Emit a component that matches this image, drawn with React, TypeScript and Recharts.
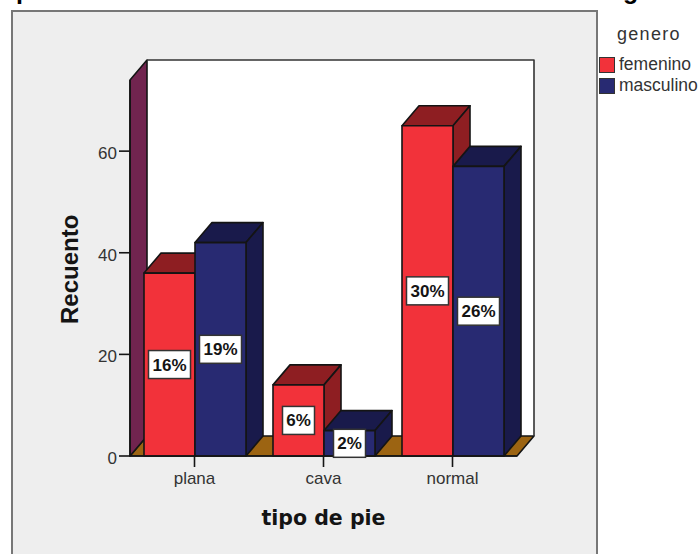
import { BarChart, Bar, XAxis, YAxis, ReferenceArea, LabelList, Legend } from "recharts";

const CATEGORIES = ["plana", "cava", "normal"];
const FEMENINO = [36, 14, 65];
const MASCULINO = [42, 5, 57];
const FEMENINO_PCT = ["16%", "6%", "30%"];
const MASCULINO_PCT = ["19%", "2%", "26%"];
const Y_TICKS = [0, 20, 40, 60];
const Y_MAX = 74;

const chartData = CATEGORIES.map((tipo, i) => ({
  tipo,
  femenino: FEMENINO[i],
  masculino: MASCULINO[i],
}));

// Oblique offset of the depth axis, in pixels.
const DX = 17;
const DY = 20;

const INK = "#141414";
const SANS = "'Liberation Sans', Arial, sans-serif";
const WIDE = "'DejaVu Sans', sans-serif";

const RED = { front: "#f2323a", shade: "#8e1e22" };
const BLUE = { front: "#282a72", shade: "#191a4b" };

const pts = (list: number[][]) => list.map((p) => p.join(",")).join(" ");

function Box3D({ x, y, width, height, colors }: any) {
  const r = x + width;
  const b = y + height;
  return (
    <g stroke={INK} strokeWidth={1.6} strokeLinejoin="round">
      <polygon fill={colors.shade} points={pts([[x, y], [x + DX, y - DY], [r + DX, y - DY], [r, y]])} />
      <polygon fill={colors.shade} points={pts([[r, y], [r + DX, y - DY], [r + DX, b - DY], [r, b]])} />
      <rect x={x} y={y} width={width} height={height} fill={colors.front} />
    </g>
  );
}

// Floor and walls behind the bars, hung off the plot rectangle.
function Walls({ x, y, width, height }: any) {
  const r = x + width;
  const b = y + height;
  return (
    <g stroke={INK} strokeLinejoin="round">
      <polygon fill="#ffffff" stroke="none" points={pts([[x + DX, y - DY], [r + DX, y - DY], [r + DX, b - DY], [x + DX, b - DY]])} />
      <polygon fill="#9c6412" strokeWidth={1.6} points={pts([[x, b], [x + DX, b - DY], [r + DX, b - DY], [r, b]])} />
      <polygon fill="#71244f" strokeWidth={1.6} points={pts([[x, y], [x + DX, y - DY], [x + DX, b - DY], [x, b]])} />
      <polyline fill="none" stroke="#333" strokeWidth={1.6} points={pts([[x + DX, y - DY], [r + DX, y - DY], [r + DX, b - DY]])} />
    </g>
  );
}

function PctLabel({ x, y, width, height, value }: any) {
  const boxW = String(value).length > 2 ? 42 : 32;
  const boxH = 28;
  const cx = x + width / 2;
  const cy = y + height / 2;
  return (
    <g>
      <rect x={cx - boxW / 2} y={cy - boxH / 2} width={boxW} height={boxH} fill="#ffffff" stroke="#333" strokeWidth={1.5} />
      <text x={cx} y={cy + 6} textAnchor="middle" fontFamily={SANS} fontWeight="bold" fontSize={17} fill={INK}>
        {value}
      </text>
    </g>
  );
}

function LegendBlock() {
  const rows = [
    { name: "femenino", color: RED.front },
    { name: "masculino", color: BLUE.front },
  ];
  return (
    <div style={{ fontFamily: SANS, color: "#333" }}>
      <div style={{ fontSize: 18, marginLeft: 18, height: 24, marginBottom: 8, lineHeight: "24px", letterSpacing: 1.3 }}>genero</div>
      {rows.map((row) => (
        <div key={row.name} style={{ display: "flex", alignItems: "center", height: 21, fontSize: 17.5 }}>
          <span style={{ width: 14, height: 14, background: row.color, border: "1.5px solid #333", marginRight: 4, flex: "none" }} />
          {row.name}
        </div>
      ))}
    </div>
  );
}

export default function App() {
  return (
    <div style={{ position: "absolute", left: 0, top: 0, width: 699, height: 554, background: "#ffffff", overflow: "hidden" }}>
      {/* Title line sits mostly above the visible area */}
      <div style={{ position: "absolute", left: 16, top: -24, fontFamily: SANS, fontWeight: "bold", fontSize: 25, lineHeight: "28px", color: "#000", whiteSpace: "nowrap", width: 660 }}>
        p
        <span style={{ position: "absolute", left: 607 }}>g</span>
      </div>
      <div style={{ position: "absolute", left: 11, top: 10, width: 583, height: 560, background: "#eeeeee", border: "2px solid #777" }} />
      <div style={{ position: "absolute", left: 0, top: 0 }}>
        <BarChart
          width={699}
          height={554}
          data={chartData}
          margin={{ top: 80, right: 82, bottom: 0, left: 60 }}
          barCategoryGap={13.6}
          barGap={0}
        >
          <ReferenceArea y1={0} y2={Y_MAX} shape={<Walls />} ifOverflow="visible" />
          <XAxis
            dataKey="tipo"
            height={98}
            tickSize={11}
            tickMargin={5}
            tick={{ fill: "#333", fontSize: 17, fontFamily: SANS }}
            axisLine={{ stroke: INK, strokeWidth: 1.6 }}
            tickLine={{ stroke: INK, strokeWidth: 1.6 }}
            scale="band"
            label={{ value: "tipo de pie", position: "insideTop", dy: 49, fontFamily: WIDE, fontWeight: "bold", fontSize: 20.5, fill: INK }}
          />
          <YAxis
            domain={[0, Y_MAX]}
            ticks={Y_TICKS}
            width={70}
            tickSize={11}
            tickMargin={2}
            tick={{ fill: "#333", fontSize: 17, fontFamily: SANS, dy: 2 }}
            axisLine={{ stroke: INK, strokeWidth: 1.6 }}
            tickLine={{ stroke: INK, strokeWidth: 1.6 }}
            label={{ value: "Recuento", angle: -90, position: "insideLeft", dx: 4, dy: 56, fontFamily: SANS, fontWeight: "bold", fontSize: 24, fill: INK }}
          />
          <Legend layout="vertical" align="right" verticalAlign="top" content={<LegendBlock />} wrapperStyle={{ left: 599, top: 22, width: 100 }} />
          <Bar dataKey="femenino" barSize={51} isAnimationActive={false} shape={<Box3D colors={RED} />}>
            <LabelList dataKey="femenino" content={(p: any) => <PctLabel {...p} value={FEMENINO_PCT[p.index]} />} />
          </Bar>
          <Bar dataKey="masculino" barSize={51} isAnimationActive={false} shape={<Box3D colors={BLUE} />}>
            <LabelList dataKey="masculino" content={(p: any) => <PctLabel {...p} value={MASCULINO_PCT[p.index]} />} />
          </Bar>
        </BarChart>
      </div>
    </div>
  );
}
